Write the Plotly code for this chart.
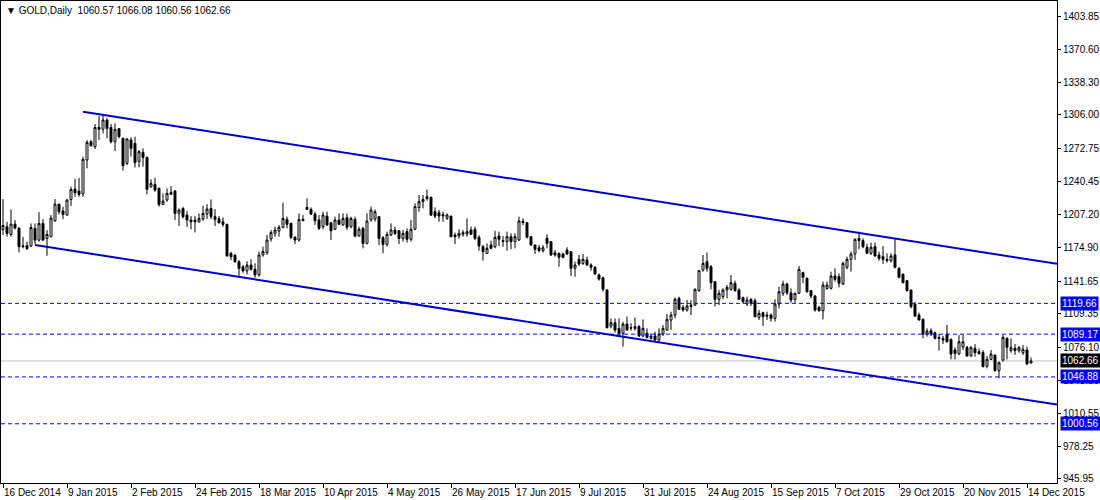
import pandas as pd
import plotly.graph_objects as go

# ---------------- data ----------------
start_date = "2014-12-16"
end_date = "2015-12-15"
holidays = ["2014-12-25", "2015-01-01", "2015-04-03"]

opens = [
    1192.8, 1195.4, 1187.8, 1198.0, 1194.1, 1176.6, 1176.6, 1176.3, 1193.8, 1182.2,
    1198.7, 1183.9, 1185.5, 1201.3, 1217.8, 1210.9, 1207.0, 1222.5, 1232.7, 1230.7,
    1228.1, 1261.4, 1279.5, 1274.6, 1293.7, 1291.8, 1301.0, 1293.7, 1279.5, 1292.4,
    1282.9, 1258.1, 1281.2, 1277.9, 1259.8, 1269.0, 1264.0, 1235.0, 1237.3, 1233.4,
    1217.5, 1221.8, 1227.4, 1230.7, 1208.6, 1213.5, 1207.0, 1202.0, 1202.0, 1200.3,
    1203.0, 1208.0, 1213.5, 1205.3, 1203.3, 1200.3, 1197.7, 1169.0, 1167.3, 1160.8,
    1155.8, 1151.8, 1157.6, 1153.3, 1147.7, 1167.5, 1169.8, 1183.3, 1188.9, 1191.2,
    1194.8, 1202.7, 1198.8, 1184.9, 1182.3, 1202.7, 1214.6, 1212.6, 1208.0, 1202.1,
    1195.5, 1206.0, 1199.4, 1192.9, 1202.1, 1197.2, 1204.4, 1195.5, 1202.7, 1186.3,
    1193.8, 1179.0, 1202.1, 1203.1, 1205.4, 1184.6, 1178.0, 1187.2, 1192.2, 1191.5,
    1183.9, 1190.6, 1183.0, 1192.9, 1214.3, 1220.2, 1223.2, 1224.5, 1210.3, 1209.3,
    1206.0, 1203.7, 1206.0, 1187.2, 1186.3, 1187.9, 1188.2, 1192.2, 1192.9, 1184.9,
    1175.7, 1169.1, 1177.4, 1175.7, 1186.3, 1181.7, 1180.7, 1185.6, 1180.7, 1182.3,
    1200.8, 1199.5, 1185.6, 1177.4, 1174.7, 1171.8, 1184.0, 1180.7, 1169.8, 1169.1,
    1168.5, 1172.4, 1170.8, 1154.3, 1163.2, 1159.2, 1162.5, 1157.6, 1155.3, 1147.7,
    1145.0, 1132.9, 1097.2, 1100.5, 1094.9, 1090.0, 1099.2, 1095.6, 1096.6, 1096.6,
    1087.4, 1090.0, 1085.0, 1087.4, 1083.4, 1089.3, 1093.3, 1103.1, 1108.1, 1124.6,
    1115.7, 1113.1, 1118.0, 1118.0, 1132.2, 1152.6, 1160.9, 1155.9, 1141.1, 1123.6,
    1126.3, 1132.9, 1133.5, 1139.4, 1132.9, 1125.3, 1119.0, 1123.6, 1122.3, 1105.8,
    1110.4, 1108.1, 1108.1, 1104.8, 1119.0, 1129.6, 1138.8, 1130.0, 1123.6, 1129.6,
    1150.0, 1144.4, 1132.2, 1126.9, 1115.7, 1112.4, 1134.5, 1134.5, 1146.7, 1146.0,
    1138.8, 1155.3, 1163.2, 1168.5, 1184.0, 1181.7, 1175.1, 1169.1, 1175.7, 1167.5,
    1165.8, 1163.2, 1161.9, 1167.5, 1154.3, 1148.4, 1142.1, 1132.9, 1119.0, 1108.1,
    1103.8, 1089.3, 1092.6, 1090.6, 1086.0, 1085.0, 1089.3, 1084.0, 1073.5, 1069.5,
    1076.5, 1076.2, 1067.6, 1075.2, 1071.9, 1070.9, 1057.7, 1064.3, 1068.6, 1053.1,
    1063.6, 1085.0, 1072.9, 1075.2, 1072.9, 1070.9, 1073.5, 1060.57,
]
highs = [
    1222.8, 1200.3, 1212.6, 1202.0, 1194.5, 1185.5, 1180.6, 1198.7, 1198.7, 1209.9,
    1203.0, 1192.1, 1207.0, 1222.8, 1218.0, 1215.2, 1222.8, 1235.0, 1242.9, 1243.6,
    1264.7, 1281.2, 1281.2, 1297.0, 1305.0, 1305.0, 1302.7, 1297.0, 1297.7, 1293.1,
    1283.5, 1282.9, 1283.8, 1284.5, 1271.3, 1273.0, 1264.7, 1242.3, 1243.9, 1234.3,
    1228.4, 1233.4, 1235.7, 1231.7, 1213.5, 1215.2, 1210.9, 1206.0, 1206.0, 1208.6,
    1216.2, 1217.8, 1222.5, 1212.9, 1206.0, 1204.6, 1198.7, 1170.7, 1168.3, 1162.4,
    1157.5, 1161.4, 1163.2, 1159.2, 1170.8, 1175.7, 1187.2, 1192.2, 1195.5, 1197.2,
    1219.2, 1205.4, 1199.4, 1186.3, 1208.7, 1207.0, 1223.5, 1214.6, 1210.3, 1207.0,
    1210.3, 1210.3, 1199.4, 1205.4, 1208.7, 1208.7, 1208.7, 1205.4, 1205.4, 1195.5,
    1195.5, 1208.7, 1215.3, 1212.6, 1205.4, 1186.3, 1190.6, 1198.8, 1195.5, 1192.2,
    1192.2, 1193.8, 1202.1, 1218.6, 1226.8, 1226.8, 1232.4, 1225.2, 1214.6, 1212.0,
    1210.3, 1208.7, 1206.0, 1189.6, 1192.9, 1192.2, 1203.7, 1195.5, 1195.5, 1187.2,
    1177.4, 1179.0, 1181.7, 1191.5, 1190.6, 1186.3, 1190.6, 1188.9, 1188.9, 1205.4,
    1203.7, 1199.5, 1186.3, 1177.4, 1177.4, 1177.4, 1187.9, 1181.3, 1172.4, 1169.8,
    1169.8, 1175.1, 1170.8, 1160.9, 1167.5, 1168.5, 1165.8, 1159.2, 1156.6, 1149.3,
    1146.0, 1133.5, 1104.8, 1104.8, 1104.8, 1101.5, 1106.5, 1099.9, 1105.8, 1098.2,
    1103.8, 1094.9, 1090.0, 1091.6, 1094.9, 1098.2, 1109.1, 1111.4, 1125.6, 1126.3,
    1118.0, 1123.0, 1123.0, 1134.5, 1152.6, 1167.5, 1169.8, 1157.6, 1141.1, 1132.9,
    1134.5, 1137.8, 1147.7, 1142.1, 1134.5, 1126.3, 1126.3, 1124.6, 1124.6, 1113.1,
    1111.4, 1111.4, 1109.8, 1123.6, 1136.2, 1142.1, 1140.1, 1134.5, 1130.2, 1156.6,
    1151.0, 1145.4, 1132.9, 1127.9, 1117.0, 1141.1, 1141.1, 1151.0, 1154.3, 1149.3,
    1160.9, 1165.8, 1170.8, 1184.0, 1190.6, 1184.0, 1178.4, 1179.7, 1179.7, 1170.8,
    1176.4, 1169.1, 1169.1, 1184.0, 1155.3, 1149.3, 1142.8, 1132.9, 1121.3, 1110.4,
    1104.8, 1094.9, 1094.9, 1091.6, 1089.3, 1087.4, 1098.2, 1085.0, 1076.2, 1088.3,
    1088.3, 1077.5, 1077.5, 1079.4, 1075.2, 1073.5, 1067.6, 1073.5, 1068.6, 1062.0,
    1088.3, 1086.0, 1085.0, 1079.4, 1077.5, 1078.5, 1076.8, 1066.08,
]
lows = [
    1187.2, 1185.5, 1185.5, 1192.8, 1170.0, 1174.0, 1172.3, 1175.6, 1178.2, 1180.6,
    1181.5, 1166.7, 1185.5, 1200.3, 1207.6, 1203.0, 1206.3, 1215.9, 1225.1, 1225.1,
    1225.1, 1253.2, 1274.6, 1272.3, 1281.2, 1287.8, 1282.9, 1277.9, 1270.3, 1282.9,
    1250.8, 1256.5, 1264.7, 1254.1, 1254.1, 1254.8, 1227.4, 1234.0, 1230.1, 1215.2,
    1216.8, 1220.2, 1226.8, 1202.0, 1196.1, 1203.7, 1195.4, 1192.8, 1189.8, 1199.7,
    1201.3, 1203.0, 1203.0, 1196.1, 1198.7, 1195.4, 1165.7, 1162.4, 1159.8, 1146.9,
    1149.9, 1148.2, 1152.0, 1145.0, 1146.0, 1165.8, 1167.5, 1180.7, 1185.6, 1185.6,
    1193.8, 1193.8, 1183.0, 1178.3, 1180.7, 1201.4, 1212.0, 1207.0, 1197.2, 1192.2,
    1192.9, 1196.2, 1182.3, 1192.2, 1197.2, 1196.5, 1192.2, 1193.8, 1185.0, 1185.6,
    1174.1, 1178.0, 1200.4, 1200.4, 1177.4, 1169.1, 1175.7, 1186.3, 1187.2, 1178.3,
    1180.7, 1179.7, 1180.7, 1192.2, 1210.3, 1213.6, 1221.2, 1206.0, 1203.7, 1200.4,
    1200.4, 1202.1, 1185.0, 1178.3, 1183.9, 1185.6, 1185.6, 1187.2, 1182.3, 1171.7,
    1161.9, 1168.5, 1173.1, 1174.1, 1176.4, 1175.7, 1171.7, 1173.1, 1174.1, 1181.6,
    1197.1, 1184.0, 1176.4, 1168.5, 1170.1, 1169.8, 1174.1, 1166.5, 1165.8, 1155.9,
    1164.2, 1167.5, 1146.7, 1146.0, 1156.6, 1157.6, 1156.6, 1152.0, 1147.7, 1142.1,
    1131.2, 1094.9, 1094.9, 1090.6, 1086.7, 1076.8, 1092.6, 1092.6, 1092.6, 1086.1,
    1086.1, 1085.0, 1084.0, 1082.7, 1081.7, 1087.4, 1092.6, 1093.3, 1104.8, 1113.1,
    1111.4, 1111.4, 1108.1, 1117.0, 1131.2, 1151.0, 1151.0, 1133.5, 1116.4, 1118.0,
    1123.6, 1124.6, 1132.2, 1131.2, 1123.0, 1119.7, 1117.0, 1117.0, 1105.8, 1103.2,
    1097.2, 1103.2, 1101.5, 1101.5, 1114.7, 1126.9, 1128.0, 1120.3, 1120.3, 1128.9,
    1139.5, 1130.2, 1124.6, 1111.4, 1111.4, 1103.8, 1132.9, 1133.5, 1141.1, 1135.5,
    1137.8, 1153.3, 1151.0, 1162.5, 1173.1, 1174.1, 1168.5, 1167.5, 1165.8, 1161.9,
    1158.6, 1159.9, 1159.9, 1154.3, 1144.4, 1139.5, 1131.2, 1114.7, 1106.5, 1102.5,
    1085.0, 1086.7, 1087.4, 1084.0, 1072.9, 1079.4, 1080.8, 1064.3, 1064.3, 1068.6,
    1073.5, 1066.9, 1066.9, 1066.9, 1068.6, 1056.4, 1055.4, 1063.6, 1052.1, 1045.5,
    1062.0, 1064.3, 1070.9, 1068.6, 1070.9, 1068.6, 1058.7, 1060.56,
]
closes = [
    1196.7, 1188.8, 1198.0, 1194.1, 1175.6, 1175.8, 1174.0, 1194.7, 1182.2, 1198.7,
    1182.2, 1187.8, 1204.0, 1217.8, 1210.3, 1207.6, 1221.8, 1232.4, 1229.1, 1227.4,
    1262.1, 1278.9, 1275.6, 1293.7, 1291.8, 1301.0, 1292.7, 1279.5, 1291.8, 1284.5,
    1255.8, 1282.2, 1273.0, 1258.8, 1269.7, 1264.0, 1232.4, 1238.3, 1231.7, 1217.5,
    1220.8, 1228.4, 1229.4, 1208.6, 1211.9, 1205.3, 1202.0, 1200.3, 1200.3, 1203.7,
    1208.6, 1212.9, 1205.3, 1202.7, 1199.4, 1197.7, 1166.7, 1165.7, 1160.8, 1154.2,
    1151.8, 1157.5, 1153.3, 1147.7, 1167.5, 1170.8, 1182.3, 1189.6, 1192.2, 1194.8,
    1203.7, 1197.8, 1184.9, 1182.3, 1202.7, 1201.4, 1212.6, 1208.0, 1201.4, 1193.8,
    1207.0, 1197.2, 1191.5, 1202.1, 1197.8, 1203.7, 1194.8, 1203.7, 1186.3, 1192.9,
    1179.0, 1201.1, 1212.0, 1210.3, 1183.9, 1178.0, 1187.9, 1192.2, 1188.9, 1183.9,
    1188.9, 1183.0, 1192.9, 1215.3, 1220.2, 1222.5, 1225.2, 1207.0, 1206.0, 1206.0,
    1207.3, 1207.0, 1185.6, 1185.6, 1188.9, 1189.6, 1190.6, 1187.9, 1183.9, 1176.4,
    1170.8, 1174.1, 1174.1, 1184.9, 1183.0, 1181.0, 1185.6, 1180.7, 1185.6, 1201.1,
    1199.5, 1185.0, 1177.4, 1173.1, 1171.8, 1174.7, 1179.0, 1167.5, 1167.5, 1165.2,
    1165.2, 1168.5, 1154.3, 1157.6, 1158.6, 1163.2, 1157.6, 1155.3, 1148.7, 1143.7,
    1133.5, 1095.6, 1100.5, 1093.3, 1090.0, 1099.2, 1093.3, 1095.3, 1094.9, 1087.4,
    1094.9, 1086.0, 1087.4, 1083.4, 1089.3, 1094.9, 1103.8, 1108.1, 1123.6, 1113.7,
    1113.1, 1117.0, 1116.4, 1133.5, 1152.0, 1159.2, 1154.3, 1140.1, 1123.6, 1129.6,
    1132.9, 1135.5, 1140.1, 1132.2, 1123.6, 1121.3, 1123.0, 1119.7, 1106.5, 1109.8,
    1106.5, 1107.1, 1104.8, 1119.0, 1131.2, 1138.8, 1130.0, 1123.0, 1129.6, 1153.3,
    1145.4, 1131.2, 1126.9, 1113.1, 1112.4, 1137.8, 1137.8, 1146.7, 1143.4, 1139.5,
    1159.2, 1163.2, 1168.5, 1183.0, 1181.7, 1175.7, 1169.1, 1175.1, 1166.5, 1164.2,
    1163.2, 1161.9, 1166.5, 1155.3, 1145.4, 1140.1, 1132.2, 1116.4, 1107.1, 1103.2,
    1089.3, 1092.3, 1089.3, 1085.0, 1085.0, 1083.4, 1081.7, 1069.5, 1070.2, 1081.7,
    1081.7, 1067.6, 1075.8, 1070.9, 1070.2, 1057.0, 1064.3, 1069.5, 1053.1, 1061.0,
    1086.0, 1076.2, 1075.8, 1072.9, 1075.8, 1074.2, 1059.7, 1062.66,
]

tick_dates = ["2014-12-16", "2015-01-09", "2015-02-02", "2015-02-24", "2015-03-18",
              "2015-04-10", "2015-05-04", "2015-05-26", "2015-06-17", "2015-07-09",
              "2015-07-31", "2015-08-24", "2015-09-15", "2015-10-07", "2015-10-29",
              "2015-11-20", "2015-12-14"]
tick_labels = ["16 Dec 2014", "9 Jan 2015", "2 Feb 2015", "24 Feb 2015", "18 Mar 2015",
               "10 Apr 2015", "4 May 2015", "26 May 2015", "17 Jun 2015", "9 Jul 2015",
               "31 Jul 2015", "24 Aug 2015", "15 Sep 2015", "7 Oct 2015", "29 Oct 2015",
               "20 Nov 2015", "14 Dec 2015"]

price_ticks = [1403.85, 1370.60, 1338.30, 1306.00, 1272.75, 1240.45, 1207.20, 1174.90,
               1141.65, 1109.35, 1076.10, 1043.80, 1010.55, 978.25, 945.95]

level_prices = [1119.66, 1089.17, 1046.88, 1000.56]
bid_price = 1062.66

# trend channel anchors (date, price) — rays extended to the right edge
upper_anchor_dates = ["2015-01-15", "2015-10-15"]
upper_anchor_prices = [1309.2, 1189.3]
lower_anchor_dates = ["2014-12-29", "2015-07-24"]
lower_anchor_prices = [1177.4, 1086.6]

title_text = "GOLD,Daily"
title_ohlc = "1060.57 1066.08 1060.56 1062.66"

# ---------------- build ----------------
dates = [d.strftime("%Y-%m-%d") for d in pd.bdate_range(start_date, end_date)
         if d.strftime("%Y-%m-%d") not in holidays]

X_RANGE = [-0.5, 263.5]
Y_RANGE = [941.98, 1418.69]
FONT = "Liberation Sans, Arial, sans-serif"

fig = go.Figure()
fig.add_trace(go.Candlestick(
    x=dates, open=opens, high=highs, low=lows, close=closes,
    increasing=dict(line=dict(color="black", width=1), fillcolor="white"),
    decreasing=dict(line=dict(color="black", width=1), fillcolor="black"),
    whiskerwidth=0, hoverinfo="skip", showlegend=False,
))

shapes = []
for p in level_prices:
    shapes.append(dict(type="line", xref="paper", x0=0, x1=1, yref="y", y0=p, y1=p,
                       line=dict(color="#0000FF", width=1, dash="4px,3px"), layer="above"))
shapes.append(dict(type="line", xref="paper", x0=0, x1=1, yref="y", y0=bid_price, y1=bid_price,
                   line=dict(color="#C0C0C0", width=1), layer="below"))


def ray(anchor_dates, anchor_prices):
    i0 = dates.index(anchor_dates[0])
    i1 = dates.index(anchor_dates[1])
    slope = (anchor_prices[1] - anchor_prices[0]) / (i1 - i0)
    x_end = X_RANGE[1]
    return dict(type="line", xref="x", yref="y", x0=i0, y0=anchor_prices[0],
                x1=x_end, y1=anchor_prices[0] + slope * (x_end - i0),
                line=dict(color="#0000CD", width=2), layer="above")


shapes.append(ray(upper_anchor_dates, upper_anchor_prices))
shapes.append(ray(lower_anchor_dates, lower_anchor_prices))

annotations = []
for p in level_prices:
    annotations.append(dict(xref="paper", x=1, xanchor="left", xshift=3, yref="y", y=p,
                            yanchor="middle", text=f"{p:.2f}", showarrow=False,
                            bgcolor="#0000FF", borderpad=1,
                            font=dict(family=FONT, size=10, color="white")))
annotations.append(dict(xref="paper", x=1, xanchor="left", xshift=3, yref="y", y=bid_price,
                        yanchor="middle", text=f"{bid_price:.2f}", showarrow=False,
                        bgcolor="black", borderpad=1,
                        font=dict(family=FONT, size=10, color="white")))
annotations.append(dict(xref="paper", x=0, xanchor="left", xshift=3,
                        yref="paper", y=1, yanchor="top", yshift=-2,
                        text="\u25BC " + title_text + "\u00a0\u00a0" + title_ohlc,
                        showarrow=False, font=dict(family=FONT, size=10, color="black")))

fig.update_layout(
    width=1100, height=500,
    margin=dict(l=1, r=43, t=1, b=17),
    paper_bgcolor="white", plot_bgcolor="white",
    showlegend=False,
    shapes=shapes, annotations=annotations,
    font=dict(family=FONT, size=10, color="black"),
    xaxis=dict(type="category", range=X_RANGE, rangeslider=dict(visible=False),
               showgrid=False, zeroline=False, automargin=False,
               showline=True, linecolor="black", linewidth=1, mirror=True,
               ticks="outside", ticklen=4, tickcolor="black", tickangle=0,
               tickvals=tick_dates, ticktext=tick_labels,
               ticklabelposition="outside right",
               tickfont=dict(family=FONT, size=10, color="black")),
    yaxis=dict(side="right", range=Y_RANGE, showgrid=False, zeroline=False, automargin=False,
               showline=True, linecolor="black", linewidth=1, mirror=True,
               ticks="outside", ticklen=3, tickcolor="black",
               tickvals=price_ticks, ticktext=[f"{v:.2f}" for v in price_ticks],
               tickfont=dict(family=FONT, size=10, color="black")),
    hovermode=False,
)

fig.write_html("out.html", config={"displayModeBar": False, "staticPlot": True},
               post_script="document.body.style.margin='0';document.body.style.overflow='hidden';")
